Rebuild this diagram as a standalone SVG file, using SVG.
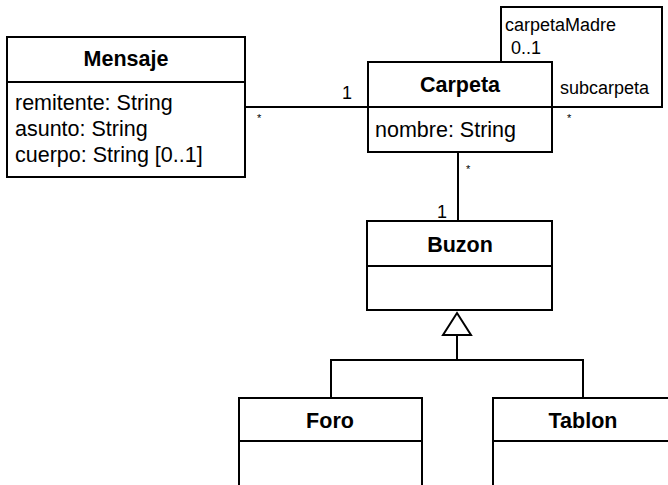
<svg xmlns="http://www.w3.org/2000/svg" width="668" height="485" viewBox="0 0 668 485">
<style>
.box{fill:#fff;stroke:#000;stroke-width:2}
.ln{fill:none;stroke:#000;stroke-width:2}
.t{font-family:"Liberation Sans",Arial,sans-serif;font-weight:bold;font-size:21.5px;text-anchor:middle;fill:#000}
.a{font-family:"Liberation Sans",Arial,sans-serif;font-size:21.5px;fill:#000}
.l{font-family:"Liberation Sans",Arial,sans-serif;font-size:18px;fill:#000}
.s{font-family:"Liberation Sans",Arial,sans-serif;font-size:11px;fill:#000}
</style>
<rect width="668" height="485" fill="#fff"/>
<g id="connectors">
<path class="ln" d="M245 107H368"/>
<path class="ln" d="M501 62V7H662V107H552"/>
<path class="ln" d="M458 152V221"/>
<path class="ln" d="M457 335V360M331 398V360H583V398"/>
<polygon points="457,313 471,335 443,335" fill="#fff" stroke="#000" stroke-width="2"/>
<text class="l" x="342" y="99">1</text>
<text class="s" x="257" y="122">*</text>
<text class="l" x="505" y="31">carpetaMadre</text>
<text class="l" x="511" y="54">0..1</text>
<text class="l" x="560" y="94">subcarpeta</text>
<text class="s" x="567" y="122">*</text>
<text class="s" x="466" y="173">*</text>
<text class="l" x="437" y="218">1</text>
</g>
<g id="Mensaje">
<rect class="box" x="7" y="37" width="238" height="140"/>
<path class="ln" d="M7 82H245"/>
<text class="t" x="126" y="66">Mensaje</text>
<text class="a" x="15" y="110">remitente: String</text>
<text class="a" x="15" y="136">asunto: String</text>
<text class="a" x="15" y="162">cuerpo: String [0..1]</text>
</g>
<g id="Carpeta">
<rect class="box" x="368" y="62" width="184" height="90"/>
<path class="ln" d="M368 107H552"/>
<text class="t" x="460" y="92">Carpeta</text>
<text class="a" x="375" y="137">nombre: String</text>
</g>
<g id="Buzon">
<rect class="box" x="367" y="221" width="185" height="89"/>
<path class="ln" d="M367 266H552"/>
<text class="t" x="460" y="252">Buzon</text>
</g>
<g id="Foro">
<rect class="box" x="239" y="398" width="183" height="100"/>
<path class="ln" d="M239 441H422"/>
<text class="t" x="330" y="428">Foro</text>
</g>
<g id="Tablon">
<rect class="box" x="493" y="398" width="185" height="100"/>
<path class="ln" d="M493 441H678"/>
<text class="t" x="583" y="428">Tablon</text>
</g>
</svg>
